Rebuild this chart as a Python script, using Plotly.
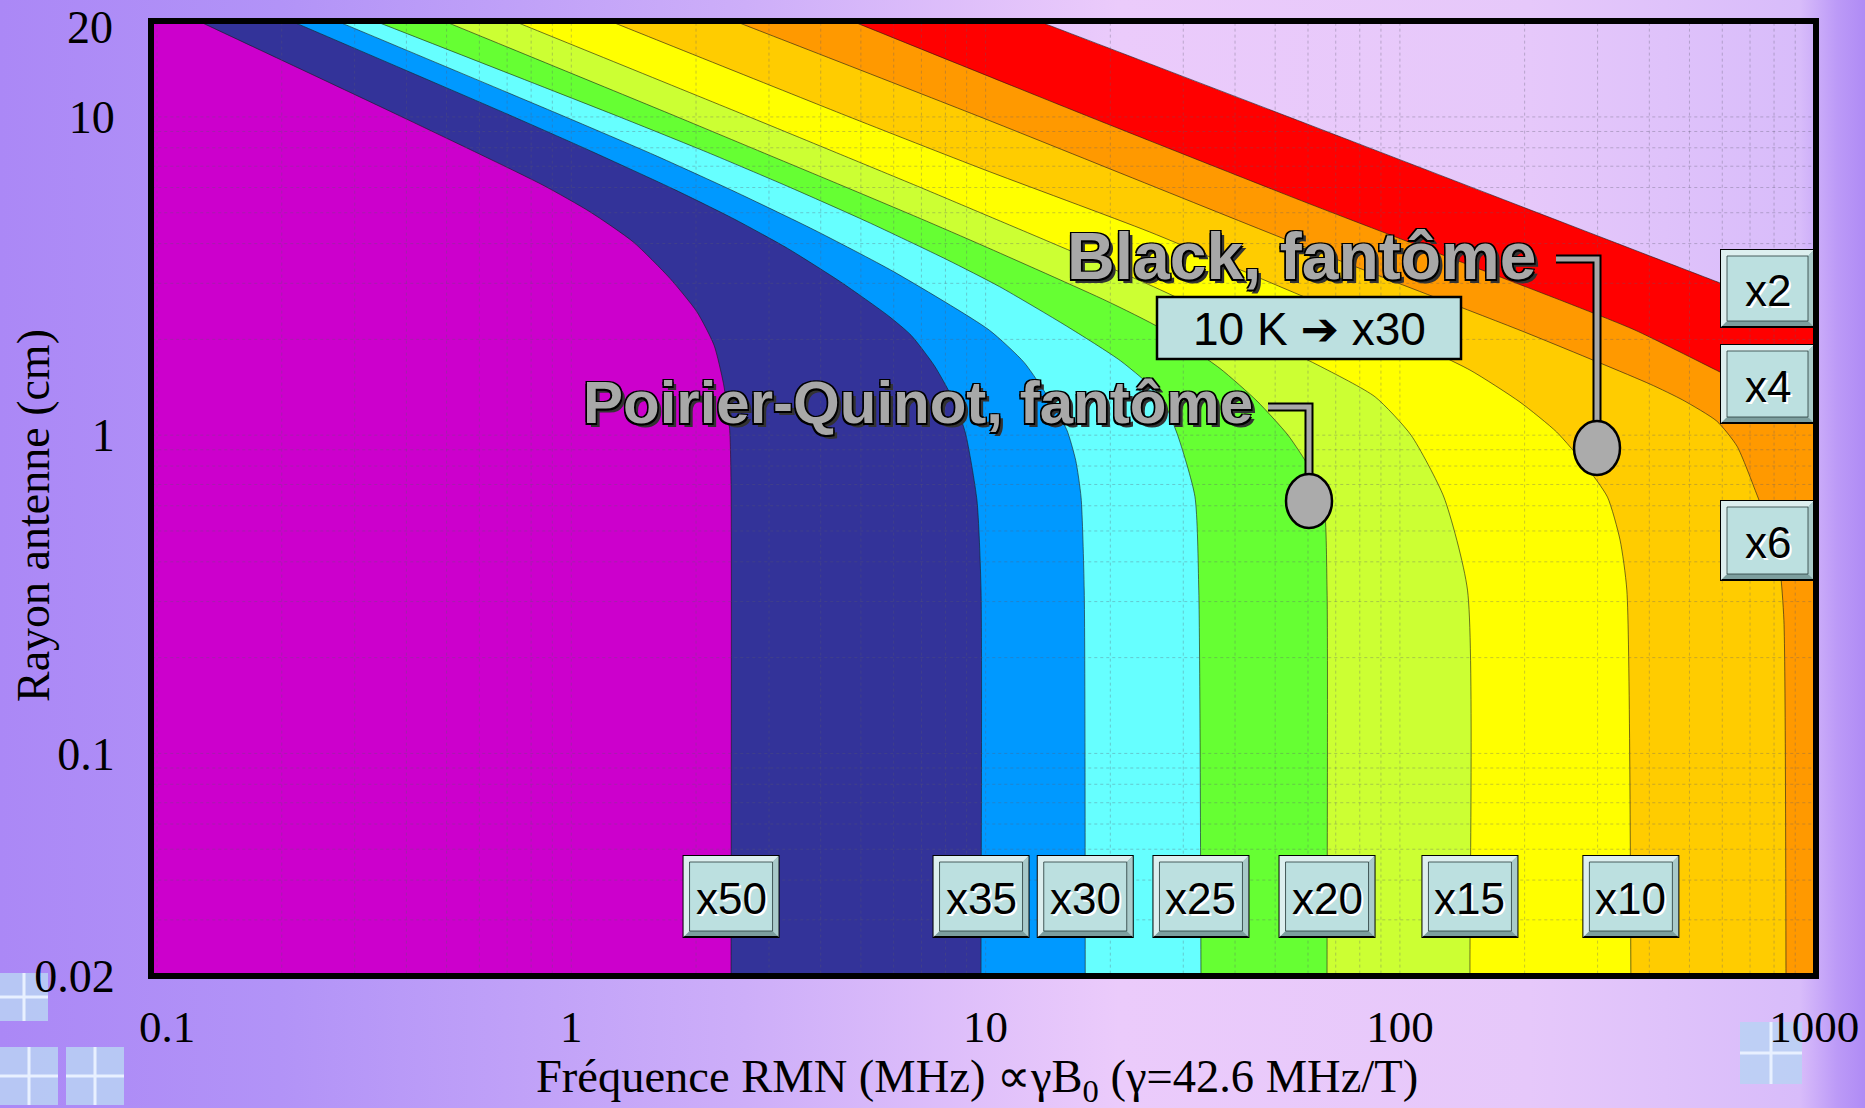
import math, base64
import plotly.graph_objects as go

# ---------------- data (frequency MHz, radius cm) ----------------
X2_F = [13.4, 59.0, 592, 1000]
X2_R = [20, 9.56, 3.01, 2.32]
X4_F = [4.76, 17.5, 59.0, 254.5, 369, 592, 1000]
X4_R = [20, 10.1, 5.40, 2.60, 2.14, 1.58, 1.12]
X6_F = [2.48, 9.86, 59.0, 201.5, 401.6, 482, 582, 651, 728, 791, 827, 845, 855]
X6_R = [20, 9.92, 3.90, 2.10, 1.447, 1.289, 1.107, 0.924, 0.648, 0.486, 0.377, 0.262, 0.02]
X10_F = [1.24, 4.60, 9.86, 24.9, 57.4, 100, 147.6, 195, 239, 280, 317, 340, 353, 361]
X10_R = [20, 10.1, 6.85, 4.35, 2.755, 2.04, 1.602, 1.27, 1.023, 0.806, 0.639, 0.468, 0.326, 0.02]
X15_F = [0.727, 2.55, 4.47, 6.97, 9.86, 14.0, 25.4, 63.4, 87.1, 106.4, 127.7, 145.6, 147.6]
X15_R = [20, 10.29, 7.62, 6.00, 4.96, 4.09, 2.93, 1.66, 1.32, 1.0, 0.639, 0.326, 0.02]
X20_F = [0.493, 1.76, 2.87, 4.47, 6.97, 9.86, 19.6, 26.4, 36.8, 45.2, 53.7, 60.7, 65.4, 66.7, 66.7]
X20_R = [20, 10.13, 7.77, 6.11, 4.79, 3.94, 2.64, 2.17, 1.62, 1.28, 1.0, 0.785, 0.627, 0.326, 0.02]
X25_F = [0.336, 1.29, 2.13, 3.32, 5.17, 8.07, 10.8, 15.7, 21.2, 26.4, 29.0, 32.0, 32.7, 33.1]
X25_R = [20, 10.07, 7.74, 6.06, 4.69, 3.56, 2.93, 2.20, 1.71, 1.33, 1.01, 0.643, 0.326, 0.02]
X30_F = [0.272, 0.944, 1.587, 2.47, 3.85, 6.01, 10.2, 12.4, 14.3, 15.7, 16.5, 17.0, 17.3, 17.4]
X30_R = [20, 10.14, 7.59, 5.84, 4.42, 3.26, 2.14, 1.69, 1.289, 1.04, 0.834, 0.638, 0.326, 0.02]
X35_F = [0.211, 0.703, 1.113, 1.786, 2.47, 3.32, 4.47, 5.83, 6.61, 7.53, 8.44, 8.95, 9.53, 9.75, 9.75]
X35_R = [20, 10.19, 7.82, 5.89, 4.78, 3.87, 3.03, 2.37, 2.06, 1.65, 1.26, 1.01, 0.625, 0.326, 0.02]
X50_F = [0.126, 0.384, 0.853, 1.11, 1.41, 1.73, 2.01, 2.21, 2.33, 2.41, 2.43, 2.43]
X50_R = [20, 10.1, 6.11, 5.03, 4.05, 3.11, 2.44, 1.92, 1.45, 1.05, 0.70, 0.02]

GAIN_LABELS = ["x2", "x4", "x6", "x10", "x15", "x20", "x25", "x30", "x35", "x50"]
X_TICKS = [0.1, 1, 10, 100, 1000]
X_TICK_TEXT = ["\u00a0\u20090.1", "1", "10", "100", "1000"]
Y_TICKS = [0.02, 0.1, 1, 10]
Y_TICK_TEXT = ["0.02", "0.1", "1", "10"]
Y_TOP_LABEL = "20"
GRID_F = [k * 10 ** d for d in (-1, 0, 1, 2) for k in range(1, 10)] + [1000]
GRID_R = [k / 100 for k in range(2, 10)] + [k / 10 for k in range(1, 10)] + list(range(1, 10)) + [10, 20]

CONTOURS = [(X2_F, X2_R), (X4_F, X4_R), (X6_F, X6_R), (X10_F, X10_R), (X15_F, X15_R),
            (X20_F, X20_R), (X25_F, X25_R), (X30_F, X30_R), (X35_F, X35_R), (X50_F, X50_R)]

# ---------------- styles ----------------
COLORS = ["#FF0000", "#FF9900", "#FFCC00", "#FFFF00", "#CCFF33",
          "#66FF33", "#66FFFF", "#0099FF", "#333399", "#CC00CC"]

W, H = 1865, 1108
L, R, T, B = 151, 49, 21, 132
PW, PH = W - L - R, H - T - B
DEC_X = 414.3
XMIN = -1 - 6 / DEC_X
XMAX = XMIN + PW / DEC_X
YMIN, YMAX = math.log10(0.02) - 0.0004, math.log10(20) + 0.0004


def px(x):
    return (x - L) / PW


def py(y):
    return (H - B - y) / PH


def fx(f):
    return (math.log10(f) - XMIN) / (XMAX - XMIN)


fig = go.Figure()

for (fs, rs), col in zip(CONTOURS, COLORS):
    pts = [(0.01, rs[0]), (0.01, rs[0]), (fs[0], rs[0])]
    pts += list(zip(fs, rs))
    if rs[-1] > 0.021:
        pts += [(fs[-1], rs[-1]), (1e5, rs[-1]), (1e5, rs[-1]), (1e5, 0.001), (1e5, 0.001)]
    else:
        pts += [(fs[-1], 0.001), (fs[-1], 0.001)]
    pts += [(0.01, 0.001), (0.01, 0.001)]
    xs = [p[0] for p in pts]
    ys = [p[1] for p in pts]
    fig.add_trace(go.Scatter(x=xs, y=ys, mode="lines", fill="toself", fillcolor=col,
                             line=dict(color="rgba(25,25,25,0.75)", width=0.8, shape="spline",
                                       smoothing=0.6, simplify=False),
                             hoverinfo="skip", showlegend=False))

gx, gy = [], []
for f in GRID_F:
    gx += [f, f, None]
    gy += [0.015, 25, None]
for r in GRID_R:
    gx += [0.05, 2000, None]
    gy += [r, r, None]
fig.add_trace(go.Scatter(x=gx, y=gy, mode="lines",
                         line=dict(color="rgba(90,90,110,0.33)", width=1, dash="dot"),
                         hoverinfo="skip", showlegend=False))

# ---------------- background (gradient + tiles) ----------------
tiles = [(0, 973, 48), (0, 1047, 58), (66, 1047, 58), (1740, 1022, 62)]
tile_svg = ""
for (tx, ty, ts) in tiles:
    tile_svg += (f"<rect x='{tx}' y='{ty}' width='{ts}' height='{ts}' fill='#B9D2F3' opacity='0.85'/>"
                 f"<line x1='{tx + ts / 2}' y1='{ty}' x2='{tx + ts / 2}' y2='{ty + ts}' stroke='#E8F0FF' stroke-width='3'/>"
                 f"<line x1='{tx}' y1='{ty + ts / 2}' x2='{tx + ts}' y2='{ty + ts / 2}' stroke='#E8F0FF' stroke-width='3'/>")
svg = (f"<svg xmlns='http://www.w3.org/2000/svg' width='{W}' height='{H}' viewBox='0 0 {W} {H}' preserveAspectRatio='none'>"
       "<defs><linearGradient id='g' x1='0' y1='0' x2='1' y2='0'>"
       "<stop offset='0' stop-color='#AB88F6'/><stop offset='0.15' stop-color='#B293F7'/>"
       "<stop offset='0.4' stop-color='#CDAEF9'/><stop offset='0.6' stop-color='#EBCBFB'/>"
       "<stop offset='0.82' stop-color='#E6C8FA'/><stop offset='0.965' stop-color='#D8BCFA'/>"
       "<stop offset='0.985' stop-color='#BC9AF7'/>"
       "<stop offset='1' stop-color='#AF8BF5'/></linearGradient></defs>"
       f"<rect width='{W}' height='{H}' fill='url(#g)'/>" + tile_svg + "</svg>")
svg_uri = "data:image/svg+xml;base64," + base64.b64encode(svg.encode()).decode()

images = [dict(source=svg_uri, xref="paper", yref="paper", x=px(0), y=py(0),
               sizex=W / PW, sizey=H / PH, xanchor="left", yanchor="top",
               sizing="stretch", layer="below")]

shapes = []
annotations = []


def bevel_box(x0, y0, x1, y1, text, size=44):
    b = 6
    shapes.append(dict(type="rect", xref="paper", yref="paper", x0=px(x0), x1=px(x1), y0=py(y1), y1=py(y0),
                       fillcolor="#7C9E9E", line=dict(color="black", width=2), layer="above"))
    p = (f"M {px(x0)},{py(y0)} L {px(x1)},{py(y0)} L {px(x1 - b)},{py(y0 + b)} L {px(x0 + b)},{py(y0 + b)} "
         f"L {px(x0 + b)},{py(y1 - b)} L {px(x0)},{py(y1)} Z")
    shapes.append(dict(type="path", xref="paper", yref="paper", path=p, fillcolor="#DDEFEF",
                       line=dict(width=0), layer="above"))
    p2 = (f"M {px(x1)},{py(y0)} L {px(x1)},{py(y1)} L {px(x1 - b)},{py(y1 - b)} L {px(x1 - b)},{py(y0 + b)} Z")
    shapes.append(dict(type="path", xref="paper", yref="paper", path=p2, fillcolor="#A9CACA",
                       line=dict(width=0), layer="above"))
    shapes.append(dict(type="rect", xref="paper", yref="paper", x0=px(x0 + b), x1=px(x1 - b),
                       y0=py(y1 - b), y1=py(y0 + b), fillcolor="#BCE0E0",
                       line=dict(color="rgba(40,60,60,0.8)", width=1), layer="above"))
    annotations.append(dict(text=text, xref="paper", yref="paper", x=px((x0 + x1) / 2), y=py((y0 + y1) / 2 + 2),
                            xanchor="center", yanchor="middle", showarrow=False,
                            font=dict(family="Liberation Sans", size=size, color="black",
                                      shadow="2px 2px 0px #FFFFFF")))


# bottom boxes centred on each contour's vertical part
for (fs, rs), lab in zip(CONTOURS, GAIN_LABELS):
    if rs[-1] <= 0.021 and lab != "x6":
        cx = L + fx(fs[-1]) * PW
        bevel_box(cx - 47.5, 856, cx + 47.5, 937, lab)

# right-hand boxes
RIGHT_BOXES = {"x2": (250, 327), "x4": (345, 423), "x6": (501, 580)}
for lab, (ya, yb) in RIGHT_BOXES.items():
    bevel_box(1721, ya, 1814, yb, lab)

# 10 K box
shapes.append(dict(type="rect", xref="paper", yref="paper", x0=px(1157), x1=px(1461), y0=py(359), y1=py(297),
                   fillcolor="#BCE0E0", line=dict(color="black", width=2.5), layer="above"))
annotations.append(dict(text="10 K <span style='font-family:DejaVu Sans'>➔</span> x30", xref="paper", yref="paper",
                        x=px(1309), y=py(329), xanchor="center", yanchor="middle", showarrow=False,
                        font=dict(family="Liberation Sans", size=46, color="black")))

# leaders + markers
for path_pts, (ccx, ccy) in [([(1556, 259), (1597, 259), (1597, 425)], (1597, 448)),
                              ([(1268, 407), (1309, 407), (1309, 478)], (1309, 501))]:
    d = "M " + " L ".join(f"{px(a)},{py(b)}" for a, b in path_pts)
    shapes.append(dict(type="path", xref="paper", yref="paper", path=d,
                       line=dict(color="black", width=9), layer="above"))
    shapes.append(dict(type="path", xref="paper", yref="paper", path=d,
                       line=dict(color="#A8A8A8", width=5), layer="above"))
    shapes.append(dict(type="circle", xref="paper", yref="paper", x0=px(ccx - 23), x1=px(ccx + 23),
                       y0=py(ccy + 27), y1=py(ccy - 27), fillcolor="#ABABAB",
                       line=dict(color="black", width=2.5), layer="above"))

big_shadow = ("-1.5px -1.5px 0 #000, 1.5px -1.5px 0 #000, -1.5px 1.5px 0 #000, "
              "1.5px 1.5px 0 #000, 4px 4px 0 #333")
annotations.append(dict(text="Black, fantôme", xref="paper", yref="paper", x=px(1301), y=py(256),
                        xanchor="center", yanchor="middle", showarrow=False,
                        font=dict(family="Liberation Sans", size=66, color="#A8A8A8", weight=700,
                                  shadow=big_shadow)))
annotations.append(dict(text="Poirier-Quinot, fantôme", xref="paper", yref="paper", x=px(918), y=py(402),
                        xanchor="center", yanchor="middle", showarrow=False,
                        font=dict(family="Liberation Sans", size=60, color="#A8A8A8", weight=700,
                                  shadow=big_shadow)))

# top y label (sits just below the tick, as in the original)
annotations.append(dict(text=Y_TOP_LABEL, xref="paper", yref="paper", x=px(115), y=py(27),
                        xanchor="right", yanchor="middle", showarrow=False,
                        font=dict(family="Liberation Serif", size=46, color="black")))

# axis titles
annotations.append(dict(text="Fréquence RMN (MHz) ∝γB<sub>0</sub> (γ=42.6 MHz/T)", xref="paper", yref="paper",
                        x=px(977), y=py(1080), xanchor="center", yanchor="middle", showarrow=False,
                        font=dict(family="Liberation Serif", size=46.5, color="black")))
annotations.append(dict(text="Rayon antenne (cm)", xref="paper", yref="paper", x=px(33), y=py(516),
                        xanchor="center", yanchor="middle", showarrow=False, textangle=-90,
                        font=dict(family="Liberation Serif", size=46, color="black")))

# plot frame
shapes.append(dict(type="rect", xref="paper", yref="paper", x0=0, x1=1, y0=0, y1=1,
                   line=dict(color="black", width=6), layer="above"))

fig.update_layout(
    width=W, height=H, autosize=False,
    margin=dict(l=L, r=R, t=T, b=B, pad=0, autoexpand=False),
    paper_bgcolor="#C9A9F8", plot_bgcolor="rgba(0,0,0,0)",
    showlegend=False, images=images, shapes=shapes, annotations=annotations,
    xaxis=dict(type="log", range=[XMIN, XMAX], tickvals=X_TICKS, ticktext=X_TICK_TEXT,
               showgrid=False, zeroline=False, showline=False, ticks="outside", ticklen=11,
               automargin=False, ticklabeloverflow="allow",
               tickcolor="rgba(0,0,0,0)", tickfont=dict(family="Liberation Serif", size=45, color="black")),
    yaxis=dict(type="log", range=[YMIN, YMAX], tickvals=Y_TICKS, ticktext=Y_TICK_TEXT,
               showgrid=False, zeroline=False, showline=False, ticks="outside", ticklen=26,
               automargin=False, ticklabeloverflow="allow",
               tickcolor="rgba(0,0,0,0)", tickfont=dict(family="Liberation Serif", size=46, color="black")),
)

fig.write_html("out.html", config={"displayModeBar": False},
               post_script="document.body.style.margin='0';document.body.style.overflow='hidden';")
